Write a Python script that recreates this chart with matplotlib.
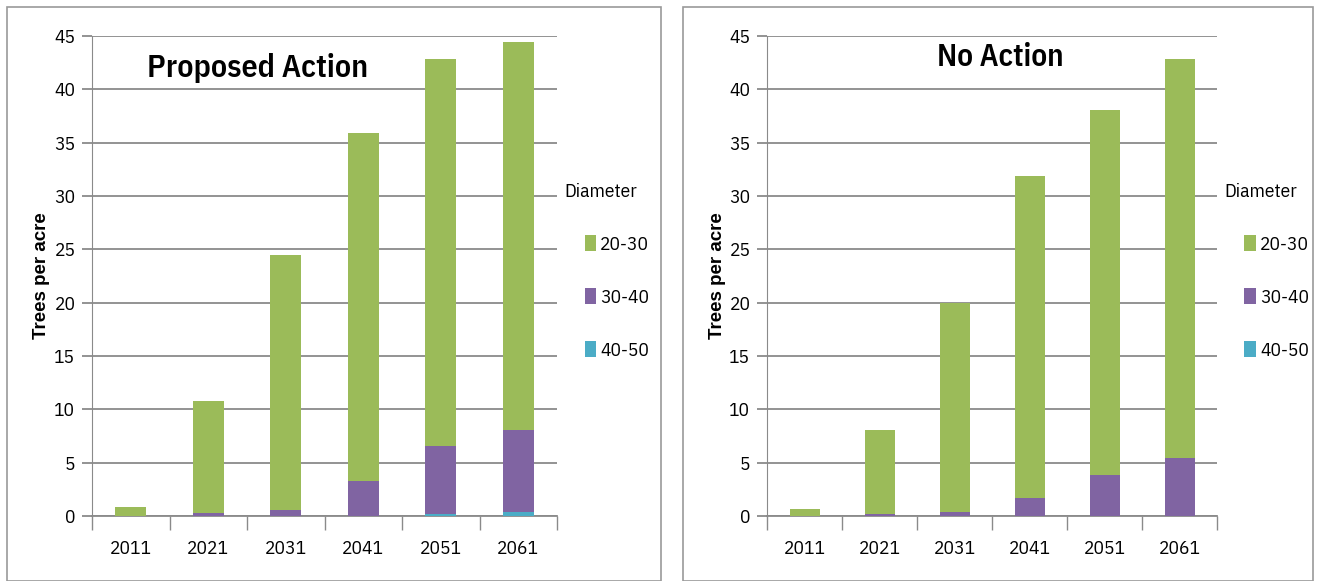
import numpy as np
from matplotlib import pyplot as plt
from matplotlib import font_manager as fm
from matplotlib.patches import Rectangle

years = ["2011", "2021", "2031", "2041", "2051", "2061"]
size_classes = ["20-30", "30-40", "40-50"]
colors = {"20-30": "#9BBB59", "30-40": "#8064A2", "40-50": "#4BACC6"}

# trees per acre, per diameter class (segment heights)
proposed = {
    "40-50": [0, 0, 0, 0, 0.2, 0.4],
    "30-40": [0, 0.3, 0.6, 3.3, 6.4, 7.7],
    "20-30": [0.8, 10.5, 23.9, 32.6, 36.2, 36.3],
}
no_action = {
    "40-50": [0, 0, 0, 0, 0, 0],
    "30-40": [0, 0.2, 0.4, 1.7, 3.8, 5.4],
    "20-30": [0.7, 7.9, 19.6, 30.2, 34.3, 37.4],
}

installed = {f.name for f in fm.fontManager.ttflist}
NARROW = [f for f in ["IBM Plex Sans Condensed", "Open Sans Condensed"] if f in installed] + ["DejaVu Sans"]
GRID = "#8a8a8a"

fig = plt.figure(figsize=(13.18, 5.81), dpi=100)
W, H = 1318, 581


def fx(px):
    return px / W


def fy(py):
    return 1 - py / H


def draw_panel(left_px, right_px, data, title, title_xy, title_size):
    ax = fig.add_axes([fx(left_px), fy(516), fx(right_px - left_px), 480 / H])
    x = np.arange(len(years))
    bottom = np.zeros(len(years))
    for cls in ["40-50", "30-40", "20-30"]:
        vals = np.array(data[cls])
        ax.bar(x, vals, 0.4, bottom=bottom, color=colors[cls], label=cls, zorder=3)
        bottom += vals

    ax.set_xlim(-0.5, len(years) - 0.5)
    ax.set_ylim(0, 45)
    ax.set_yticks(range(0, 46, 5))
    ax.yaxis.grid(True, color=GRID, linewidth=1.3, zorder=0)
    ax.tick_params(axis="y", length=7, color=GRID, width=1.3, pad=5)

    ax.set_xticks(x)
    ax.set_xticklabels(years, family=NARROW, fontsize=14)
    ax.set_xticks(np.arange(-0.5, len(years)), minor=True)
    ax.tick_params(axis="x", which="major", length=0, pad=17)
    ax.tick_params(axis="x", which="minor", length=10, color=GRID, width=1.0)
    for lbl in ax.get_yticklabels():
        lbl.set_family(NARROW)
        lbl.set_fontsize(14)

    for s in ["top", "right"]:
        ax.spines[s].set_visible(False)
    ax.spines["left"].set_color(GRID)
    ax.spines["bottom"].set_color(GRID)
    ax.spines["bottom"].set_linewidth(1.3)

    ax.set_ylabel("Trees per acre", fontsize=13.5, fontweight="bold",
                  family=["Liberation Sans", "DejaVu Sans"])
    ax.yaxis.set_label_coords(-0.09, 0.5)

    ax.text(title_xy[0], title_xy[1], title, transform=ax.transAxes, ha="center",
            va="center", fontsize=title_size, fontweight="semibold", family=NARROW)

    handles, labels = ax.get_legend_handles_labels()
    leg = ax.legend(handles[::-1], labels[::-1], title="Diameter",
                    loc="upper left", bbox_to_anchor=(1.022, 0.73),
                    frameon=False, handlelength=0.6, handleheight=0.9,
                    handletextpad=0.2, labelspacing=1.75,
                    prop={"family": NARROW, "size": 14},
                    title_fontproperties={"family": NARROW, "size": 14})
    leg._legend_box.align = "left"
    leg.get_title().set_position((-20, 0))
    return ax


draw_panel(92, 557, proposed, "Proposed Action", (0.357, 0.933), 23)
draw_panel(767, 1217, no_action, "No Action", (0.518, 0.956), 22.5)

# panel frames
fig.patches.append(Rectangle((fx(7), 0), fx(661 - 7), fy(7), transform=fig.transFigure,
                             fill=False, edgecolor="#9a9a9a", linewidth=1.2))
fig.patches.append(Rectangle((fx(683), 0), fx(1313 - 683), fy(7), transform=fig.transFigure,
                             fill=False, edgecolor="#9a9a9a", linewidth=1.2))

fig.savefig("out.png", dpi=100)
